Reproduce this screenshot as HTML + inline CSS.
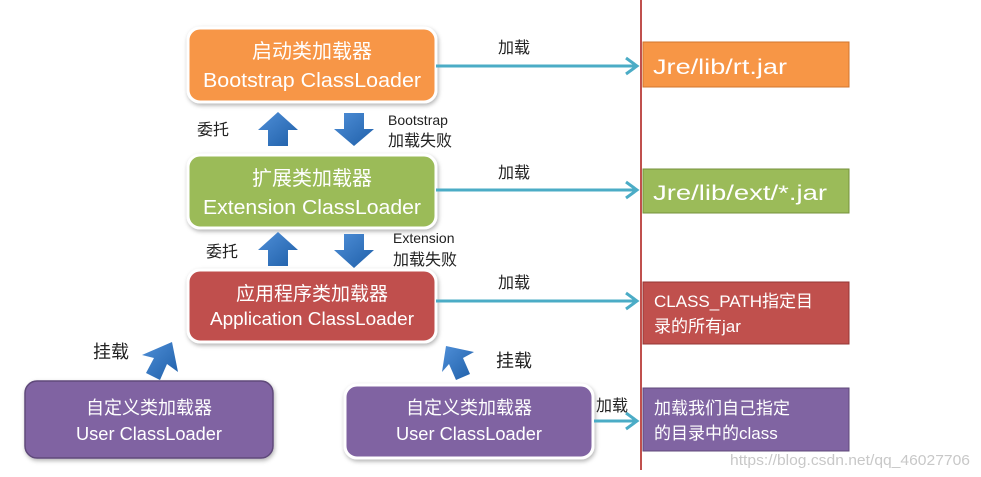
<!DOCTYPE html>
<html><head><meta charset="utf-8"><style>
html,body{margin:0;padding:0;background:#fff;}
svg{display:block;font-family:"Liberation Sans","Noto Sans CJK SC",sans-serif;}
</style></head><body>
<svg width="981" height="477" viewBox="0 0 981 477" xmlns="http://www.w3.org/2000/svg">
<defs>
<linearGradient id="bl" x1="0" y1="0" x2="1" y2="1"><stop offset="0" stop-color="#4F8FD8"/><stop offset="1" stop-color="#1F5FA8"/></linearGradient>
<filter id="sh" x="-10%" y="-10%" width="120%" height="130%"><feDropShadow dx="1" dy="2" stdDeviation="2" flood-color="#000" flood-opacity="0.3"/></filter>
</defs>
<rect width="981" height="477" fill="#fff"/>
<line x1="641" y1="0" x2="641" y2="470" stroke="#C0504D" stroke-width="2"/>
<g filter="url(#sh)" stroke="#fff" stroke-width="3">
<rect x="188" y="28" width="248" height="74" rx="12" fill="#F79646"/>
<rect x="188" y="155" width="248" height="73" rx="12" fill="#9BBB59"/>
<rect x="188" y="270" width="248" height="72" rx="12" fill="#C0504D"/>
<rect x="25" y="381" width="248" height="77" rx="12" fill="#8064A2" stroke="#5F497A" stroke-width="1.5"/>
<rect x="345" y="385" width="248" height="73" rx="12" fill="#8064A2"/>
</g>
<g fill="#fff" text-anchor="middle" font-size="20">
<text x="312" y="58">启动类加载器</text>
<text x="312" y="87" textLength="218" lengthAdjust="spacingAndGlyphs">Bootstrap ClassLoader</text>
<text x="312" y="185">扩展类加载器</text>
<text x="312" y="214" textLength="218" lengthAdjust="spacingAndGlyphs">Extension ClassLoader</text>
<text x="312" y="300" font-size="19">应用程序类加载器</text>
<text x="312" y="325" font-size="18" textLength="204" lengthAdjust="spacingAndGlyphs">Application ClassLoader</text>
<text x="149" y="414" font-size="18">自定义类加载器</text>
<text x="149" y="440" font-size="18" textLength="146" lengthAdjust="spacingAndGlyphs">User ClassLoader</text>
<text x="469" y="414" font-size="18">自定义类加载器</text>
<text x="469" y="440" font-size="18" textLength="146" lengthAdjust="spacingAndGlyphs">User ClassLoader</text>
</g>
<rect x="643" y="42" width="206" height="45" fill="#F79646" stroke="#D0752E"/>
<rect x="643" y="169" width="206" height="44" fill="#9BBB59" stroke="#76923C"/>
<rect x="643" y="282" width="206" height="62" fill="#C0504D" stroke="#943634"/>
<rect x="643" y="388" width="206" height="63" fill="#8064A2" stroke="#5F497A"/>
<g fill="#fff" font-size="21">
<text x="653" y="74" textLength="134" lengthAdjust="spacingAndGlyphs">Jre/lib/rt.jar</text>
<text x="653" y="200" textLength="174" lengthAdjust="spacingAndGlyphs">Jre/lib/ext/*.jar</text>
<text x="654" y="307" font-size="17">CLASS_PATH指定目</text>
<text x="654" y="332" font-size="17">录的所有jar</text>
<text x="654" y="414" font-size="17">加载我们自己指定</text>
<text x="654" y="439" font-size="17">的目录中的class</text>
</g>
<g stroke="#4BACC6" stroke-width="3" fill="none">
<line x1="436" y1="66" x2="636" y2="66"/><polyline points="626,58 637,66 626,74"/>
<line x1="436" y1="190" x2="636" y2="190"/><polyline points="626,182 637,190 626,198"/>
<line x1="436" y1="301" x2="636" y2="301"/><polyline points="626,293 637,301 626,309"/>
<line x1="594" y1="421" x2="636" y2="421"/><polyline points="626,413 637,421 626,429"/>
</g>
<g font-size="16" fill="#222">
<text x="498" y="53">加载</text>
<text x="498" y="178">加载</text>
<text x="498" y="288">加载</text>
<text x="596" y="411">加载</text>
<text x="197" y="135">委托</text>
<text x="206" y="257">委托</text>
<text x="388" y="125" font-size="14">Bootstrap</text>
<text x="388" y="146">加载失败</text>
<text x="393" y="243" font-size="14">Extension</text>
<text x="393" y="265">加载失败</text>
<text x="93" y="358" font-size="18">挂载</text>
<text x="496" y="367" font-size="18">挂载</text>
</g>
<g fill="url(#bl)">
<polygon points="278,112 298,130 288,130 288,146 268,146 268,130 258,130"/>
<polygon points="344,113 364,113 364,129 374,129 354,146 334,129 344,129"/>
<polygon points="278,232 298,250 288,250 288,266 268,266 268,250 258,250"/>
<polygon points="344,234 364,234 364,250 374,250 354,268 334,250 344,250"/>
<polygon points="172,342 178,372 167,364 160,380 146,373 154,358 142,355"/>
<polygon points="446,346 474,352 463,358 470,374 456,380 449,364 442,372"/>
</g>
<text x="730" y="465" font-size="15" fill="#c8c8c8" textLength="240" lengthAdjust="spacingAndGlyphs">https://blog.csdn.net/qq_46027706</text>
</svg>
</body></html>
